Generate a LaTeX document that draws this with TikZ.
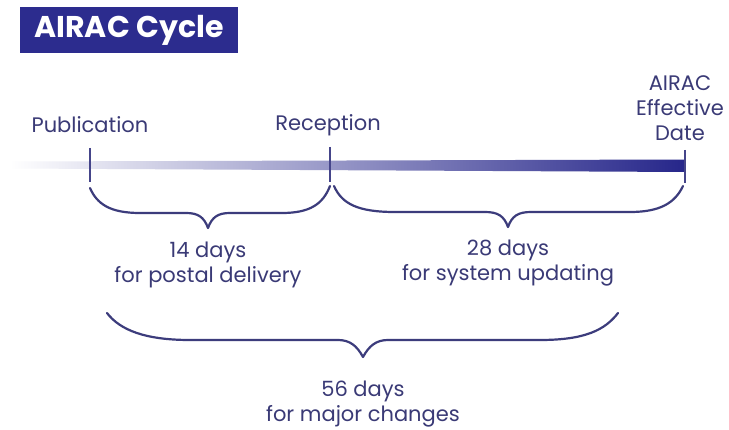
\documentclass[tikz,border=0pt]{standalone}
\usepackage{fontspec}
\setmainfont{Poppins}
\begin{document}
\begin{tikzpicture}[x=1pt,y=1pt,
  lbl/.style={text=txtc,inner sep=0pt,align=center,font=\fontsize{21}{25}\selectfont},
  tick/.style={draw=tickc,line width=2pt},
  brace/.style={draw=bracec,line width=2.2pt,line cap=round,line join=round}]
\definecolor{txtc}{HTML}{3A3A76}
\definecolor{tickc}{HTML}{45458A}
\definecolor{bracec}{HTML}{3C3C7C}
\definecolor{titlec}{HTML}{2C2C8E}
\definecolor{barR}{HTML}{26268A}
\definecolor{barM}{HTML}{8A8AC4}
\useasboundingbox (0,0) rectangle (729,-430);
\fill[white] (0,0) rectangle (729,-430);
% title
\node[fill=titlec,minimum width=218pt,minimum height=46pt,inner sep=0pt,
      text=white,font=\bfseries\fontsize{30}{32}\selectfont] (title) at (129,-30) {AIRAC Cycle};
% bar
\shade[left color=white,middle color=barM,right color=barR]
  (10,-161.5) -- (685,-159.5) -- (685,-172) -- (10,-168.5) -- cycle;
% ticks
\coordinate (p1) at (90,-148); \coordinate (p2) at (90,-182);
\coordinate (r1) at (330,-147); \coordinate (r2) at (330,-182);
\coordinate (e1) at (685,-150); \coordinate (e2) at (685,-183);
\draw[tick] (p1) -- (p2);
\draw[tick] (r1) -- (r2);
\draw[tick] (e1) -- (e2);
% labels
\node[lbl] (pub) at (90,-125) {Publication};
\node[lbl] (rec) at (328,-125) {Reception};
\node[lbl] (eff) at (680,-108) {AIRAC\\Effective\\Date};
% braces
\draw[brace] (90,-188) .. controls (97,-204) and (110,-213) .. (140,-213)
  -- (186,-213) .. controls (198,-213) and (204,-217) .. (208,-228)
  .. controls (212,-217) and (218,-213) .. (230,-213)
  -- (282,-213) .. controls (310,-213) and (323,-204) .. (330,-186);
\draw[brace] (334,-186) .. controls (342,-204) and (358,-212) .. (395,-212)
  -- (485,-212) .. controls (498,-212) and (504,-216) .. (508,-227)
  .. controls (512,-216) and (518,-212) .. (531,-212)
  -- (630,-212) .. controls (660,-212) and (675,-203) .. (683,-186);
\draw[brace] (107,-313) .. controls (120,-330) and (145,-340) .. (190,-340)
  -- (338,-340) .. controls (350,-340) and (357,-346) .. (363,-357)
  .. controls (369,-346) and (376,-340) .. (388,-340)
  -- (540,-340) .. controls (585,-340) and (605,-330) .. (618,-313);
\node[lbl] (d14) at (208,-265) {14 days\\for postal delivery};
\node[lbl] (d28) at (508,-263) {28 days\\for system updating};
\node[lbl] (d56) at (363,-404) {56 days\\for major changes};
\end{tikzpicture}
\end{document}
